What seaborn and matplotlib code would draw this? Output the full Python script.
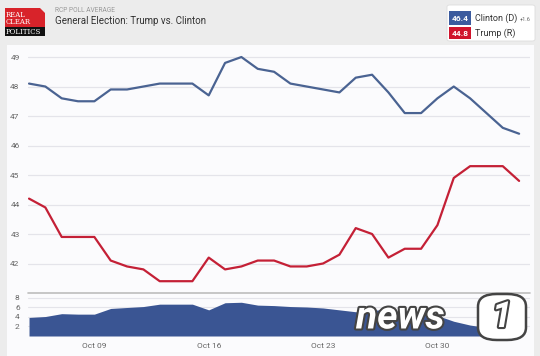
import pandas as pd
import numpy as np
import matplotlib
matplotlib.use("Agg")
import matplotlib.pyplot as plt
import matplotlib.patches as mpatches
import matplotlib.patheffects as pe
import seaborn as sns

# poll averages, Oct 05 .. Nov 04
dates = pd.date_range("2016-10-05", "2016-11-04", freq="D")
clinton = [48.1, 48.0, 47.6, 47.5, 47.5, 47.9, 47.9, 48.0, 48.1, 48.1,
           48.1, 47.7, 48.8, 49.0, 48.6, 48.5, 48.1, 48.0, 47.9, 47.8,
           48.3, 48.4, 47.8, 47.1, 47.1, 47.6, 48.0, 47.6, 47.1, 46.6, 46.4]
trump = [44.2, 43.9, 42.9, 42.9, 42.9, 42.1, 41.9, 41.8, 41.4, 41.4,
         41.4, 42.2, 41.8, 41.9, 42.1, 42.1, 41.9, 41.9, 42.0, 42.3,
         43.2, 43.0, 42.2, 42.5, 42.5, 43.3, 44.9, 45.3, 45.3, 45.3, 44.8]
spread = [3.9, 4.1, 4.7, 4.6, 4.6, 5.8, 6.0, 6.2, 6.7, 6.7,
          6.7, 5.5, 7.0, 7.1, 6.5, 6.4, 6.2, 6.1, 5.9, 5.5,
          5.1, 5.4, 5.6, 4.6, 4.6, 4.3, 3.1, 2.3, 1.8, 1.3, 1.6]
xtick_dates = ["2016-10-09", "2016-10-16", "2016-10-23", "2016-10-30"]
xtick_labels = ["Oct 09", "Oct 16", "Oct 23", "Oct 30"]

df = pd.DataFrame({"date": dates, "Clinton": clinton, "Trump": trump, "spread": spread})

BLUE = "#4a6392"
RED = "#c42036"
FILL = "#3a5593"
W, H = 540, 356

sns.set_style("white")
plt.rcParams["font.family"] = ["Roboto", "DejaVu Sans"]

fig = plt.figure(figsize=(W / 100, H / 100), dpi=100)
fig.patch.set_facecolor("#ececec")

def fx(px):
    return px / W

def fy(py):
    return 1 - py / H

# white chart panel (behind the axes)
fig.patches.append(mpatches.Rectangle((fx(7), 0), fx(527), fy(45), transform=fig.transFigure,
                                      facecolor="#fbfbfd", edgecolor="none", zorder=-5))

x0 = dates[0] - pd.Timedelta(hours=1.5)
x1 = dates[-1] + pd.Timedelta(hours=16)

ax = fig.add_axes([fx(28), fy(293), fx(502), fy(47) - fy(293)])
ax2 = fig.add_axes([fx(28), fy(336), fx(502), fy(293) - fy(336)])
for a in (ax, ax2):
    a.set_facecolor("none")
    for s in a.spines.values():
        s.set_visible(False)
    a.set_xlim(x0, x1)

sns.lineplot(data=df, x="date", y="Clinton", ax=ax, color=BLUE, lw=1.6)
sns.lineplot(data=df, x="date", y="Trump", ax=ax, color=RED, lw=1.6)
ax.set_ylim(41.0, 49.34)
ax.set_yticks([42, 43, 44, 45, 46, 47, 48, 49])
ax.grid(axis="y", color="#e4e4ea", lw=0.9)
ax.set_axisbelow(True)
ax.set_xticks([])
ax.set_xlabel("")
ax.set_ylabel("")
ax.tick_params(axis="y", length=0, labelsize=6, colors="#666666", pad=6)
ax.axhline(41.0, color="#bdbdbd", lw=1.2, clip_on=False)

ax2.fill_between(df["date"], 0, df["spread"], color=FILL, lw=0)
ax2.set_ylim(0, 9.05)
ax2.set_yticks([2, 4, 6, 8])
ax2.grid(axis="y", color="#e4e4ea", lw=0.8)
ax2.set_axisbelow(True)
ax2.set_xticks(pd.to_datetime(xtick_dates))
ax2.set_xticklabels(xtick_labels)
ax2.tick_params(axis="y", length=0, labelsize=6, colors="#666666", pad=6)
ax2.tick_params(axis="x", length=0, labelsize=6, colors="#666666", pad=5)

# header logo
fig.patches.append(mpatches.Polygon([(fx(5), fy(8)), (fx(40), fy(8)), (fx(45), fy(13)),
                                     (fx(45), fy(27)), (fx(5), fy(27))], closed=True,
                                    transform=fig.transFigure, facecolor="#d8232a", edgecolor="none"))
fig.patches.append(mpatches.Rectangle((fx(5), fy(36)), fx(40), fy(27) - fy(36), transform=fig.transFigure,
                                      facecolor="#111111", edgecolor="none"))
fig.text(fx(6), fy(15), "REAL", color="white", fontsize=5, family="DejaVu Serif", va="center")
fig.text(fx(6), fy(22), "CLEAR", color="white", fontsize=5, family="DejaVu Serif", va="center")
fig.text(fx(6), fy(31.5), "POLITICS", color="white", fontsize=5, family="DejaVu Serif", va="center")
fig.text(fx(55), fy(10), "RCP POLL AVERAGE", color="#999999", fontsize=4.8, va="center")
fig.text(fx(55), fy(21.5), "General Election: Trump vs. Clinton", color="#333333", fontsize=7, va="center")

# legend box
fig.patches.append(mpatches.FancyBboxPatch((fx(447), fy(41)), fx(88), fy(5) - fy(41),
                                           boxstyle="round,pad=0,rounding_size=0.005",
                                           transform=fig.transFigure, facecolor="white",
                                           edgecolor="#dddddd", lw=0.6))
fig.patches.append(mpatches.Rectangle((fx(449), fy(25)), fx(22), fy(11) - fy(25), transform=fig.transFigure,
                                      facecolor="#3b5b9e", edgecolor="none"))
fig.patches.append(mpatches.Rectangle((fx(449), fy(39)), fx(22), fy(27) - fy(39), transform=fig.transFigure,
                                      facecolor="#d0142c", edgecolor="none"))
fig.text(fx(460), fy(18.5), f"{clinton[-1]:.1f}", color="white", fontsize=6, ha="center", va="center", weight="bold")
fig.text(fx(460), fy(33), f"{trump[-1]:.1f}", color="white", fontsize=6, ha="center", va="center", weight="bold")
fig.text(fx(475), fy(18.5), "Clinton (D)", color="#333333", fontsize=6.5, va="center")
fig.text(fx(520), fy(19), f"+{spread[-1]:.1f}", color="#666666", fontsize=4, va="center")
fig.text(fx(475), fy(33), "Trump (R)", color="#333333", fontsize=6.5, va="center")

# watermark
fig.text(fx(356), fy(318), "news", color="white", fontsize=28, style="italic", weight="bold",
         va="center", path_effects=[pe.withStroke(linewidth=3, foreground="#444444")], zorder=10)
fig.patches.append(mpatches.FancyBboxPatch((fx(478), fy(340)), fx(48), fy(294) - fy(340),
                                           boxstyle="round,pad=0,rounding_size=0.035",
                                           transform=fig.transFigure, facecolor="white",
                                           edgecolor="#444444", lw=1.8, zorder=10))
fig.text(fx(502), fy(317), "1", color="white", fontsize=26, style="italic", weight="bold",
         ha="center", va="center", path_effects=[pe.withStroke(linewidth=3, foreground="#444444")], zorder=11)

fig.savefig("out.png", dpi=100)
